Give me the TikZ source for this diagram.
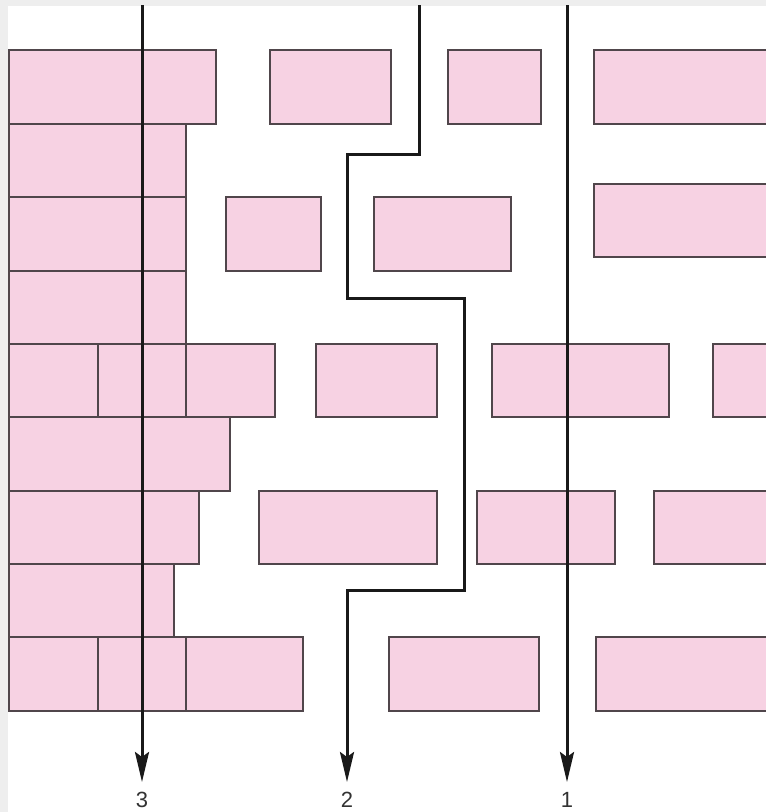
\documentclass[tikz,border=0pt]{standalone}
\usepackage{fontspec}
\setmainfont{Liberation Sans}
\usetikzlibrary{arrows.meta}
\definecolor{pinkfill}{RGB}{247,210,227}
\definecolor{celledge}{RGB}{80,70,75}
\definecolor{framegray}{RGB}{238,238,238}
\begin{document}
\begin{tikzpicture}[x=1pt,y=-1pt,
  cell/.style={fill=pinkfill,draw=celledge,line width=1.4pt},
  route/.style={line width=3pt,draw=black!90,line join=miter,
    -{Stealth[length=30pt,width=14pt,inset=5pt]}},
  lbl/.style={font=\fontsize{22}{22}\selectfont,text=black!80,inner sep=0pt}]
\useasboundingbox (0,0) rectangle (766,812);
\clip (0,0) rectangle (766,812);
\fill[framegray] (0,0) rectangle (766,812);
\fill[white] (8,6) rectangle (770,816);
% left stacked blocks
\draw[cell] (9,50) rectangle (216,124);
\draw[cell] (9,124) rectangle (186,197);
\draw[cell] (9,197) rectangle (186,271);
\draw[cell] (9,271) rectangle (186,344);
\draw[cell] (9,344) rectangle (98,417);
\draw[cell] (98,344) rectangle (186,417);
\draw[cell] (186,344) rectangle (275,417);
\draw[cell] (9,417) rectangle (230,491);
\draw[cell] (9,491) rectangle (199,564);
\draw[cell] (9,564) rectangle (174,637);
\draw[cell] (9,637) rectangle (98,711);
\draw[cell] (98,637) rectangle (186,711);
\draw[cell] (186,637) rectangle (303,711);
% row 1
\draw[cell] (270,50) rectangle (391,124);
\draw[cell] (448,50) rectangle (541,124);
\draw[cell] (594,50) rectangle (780,124);
% row 3
\draw[cell] (226,197) rectangle (321,271);
\draw[cell] (374,197) rectangle (511,271);
\draw[cell] (594,184) rectangle (780,257);
% row 5
\draw[cell] (316,344) rectangle (437,417);
\draw[cell] (492,344) rectangle (669,417);
\draw[cell] (713,344) rectangle (780,417);
% row 7
\draw[cell] (259,491) rectangle (437,564);
\draw[cell] (477,491) rectangle (615,564);
\draw[cell] (654,491) rectangle (780,564);
% row 9
\draw[cell] (389,637) rectangle (539,711);
\draw[cell] (596,637) rectangle (780,711);
% routes
\coordinate (s3) at (142,5);
\coordinate (s2) at (419,5);
\coordinate (s1) at (567,5);
\node[lbl] (n3) at (142,800) {3};
\node[lbl] (n2) at (347,800) {2};
\node[lbl] (n1) at (567,800) {1};
\coordinate (e3) at (142,782);
\coordinate (e2) at (347,782);
\coordinate (e1) at (567,782);
\draw[route] (s3) -- (e3);
\draw[route] (s2) -- (419,154) -- (347,154) -- (347,298) -- (464,298) -- (464,590) -- (347,590) -- (e2);
\draw[route] (s1) -- (e1);
\end{tikzpicture}
\end{document}
